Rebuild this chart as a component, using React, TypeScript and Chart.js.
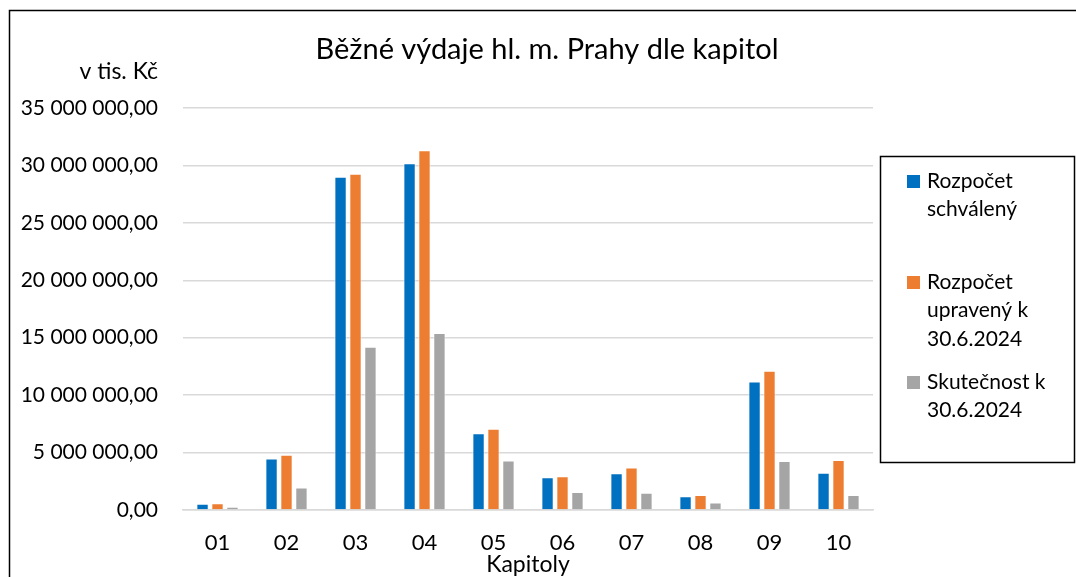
import { useEffect, useRef } from "react";
import { Chart, registerables } from "chart.js";

Chart.register(...registerables);

const categories = ["01", "02", "03", "04", "05", "06", "07", "08", "09", "10"];
const rozpocetSchvaleny = [520000, 4470000, 29000000, 30170000, 6670000, 2840000, 3190000, 1190000, 11170000, 3220000];
const rozpocetUpraveny = [580000, 4790000, 29250000, 31300000, 7050000, 2930000, 3680000, 1280000, 12100000, 4330000];
const skutecnost = [260000, 1940000, 14200000, 15400000, 4290000, 1540000, 1480000, 640000, 4240000, 1280000];
const seriesLabels = [
  ["Rozpočet", "schválený"],
  ["Rozpočet", "upravený k", "30.6.2024"],
  ["Skutečnost k", "30.6.2024"],
];
const seriesColors = ["#0070C0", "#ED7D31", "#A5A5A5"];
const chartTitle = "Běžné výdaje hl. m. Prahy dle kapitol";
const unitLabel = "v tis. Kč";
const xTitle = "Kapitoly";

const FONT = "Lato, 'Open Sans', sans-serif";

function formatCz(v: number): string {
  const s = Math.round(v).toString().replace(/\B(?=(\d{3})+(?!\d))/g, " ");
  return s + ",00";
}

const decorPlugin = {
  id: "decor",
  afterDraw(chart: any) {
    const ctx = chart.ctx as CanvasRenderingContext2D;
    ctx.save();
    // outer frame
    ctx.strokeStyle = "#000";
    ctx.lineWidth = 1.5;
    ctx.beginPath();
    ctx.moveTo(9.5, 600);
    ctx.lineTo(9.5, 10.5);
    ctx.lineTo(1100, 10.5);
    ctx.stroke();

    // title
    ctx.fillStyle = "#000";
    ctx.font = `29px ${FONT}`;
    ctx.textAlign = "center";
    ctx.textBaseline = "middle";
    ctx.fillText(chartTitle, 547, 50);

    // unit label
    ctx.font = `23px ${FONT}`;
    ctx.textAlign = "right";
    ctx.fillText(unitLabel, 158, 72);

    // legend box
    ctx.lineWidth = 1.5;
    ctx.strokeStyle = "#000";
    ctx.strokeRect(880.5, 156.5, 194, 306);
    const starts = [181, 282, 382];
    const lh = 28.5;
    ctx.textAlign = "left";
    ctx.font = `21px ${FONT}`;
    seriesLabels.forEach((lines, i) => {
      const y0 = starts[i];
      ctx.fillStyle = seriesColors[i];
      ctx.fillRect(907, y0 - 6, 13, 13);
      ctx.fillStyle = "#000";
      lines.forEach((ln, j) => ctx.fillText(ln, 927, y0 + j * lh));
    });
    ctx.restore();
  },
};

export default function App() {
  const ref = useRef<HTMLCanvasElement | null>(null);
  useEffect(() => {
    if (!ref.current) return;
    const datasets = [rozpocetSchvaleny, rozpocetUpraveny, skutecnost].map((d, i) => ({
      label: seriesLabels[i].join(" "),
      data: d,
      backgroundColor: seriesColors[i],
      borderColor: "#ffffff",
      borderWidth: 0.8,
      categoryPercentage: 0.65,
      barPercentage: 0.8,
    }));
    const chart = new Chart(ref.current, {
      type: "bar",
      data: { labels: categories, datasets },
      options: {
        animation: false,
        responsive: false,
        devicePixelRatio: 1,
        layout: { padding: { left: 0, right: 203, top: 108, bottom: 0 } },
        plugins: {
          legend: { display: false },
          title: { display: false },
          tooltip: { enabled: false },
        },
        scales: {
          x: {
            grid: { display: false, drawTicks: false },
            border: { display: true, color: "#d9d9d9", width: 1.5 },
            ticks: { color: "#000", font: { family: FONT, size: 22 }, padding: 20 },
            title: {
              display: true,
              text: xTitle,
              color: "#000",
              font: { family: FONT, size: 23, lineHeight: 1.1 },
              padding: { top: 0, bottom: 0 },
            },
            afterFit: (s: any) => { s.height = 67; },
          },
          y: {
            min: 0,
            max: 35000000,
            ticks: {
              stepSize: 5000000,
              color: "#000",
              font: { family: FONT, size: 21 },
              padding: 25,
              callback: (v: any) => formatCz(Number(v)),
            },
            grid: { color: "#d9d9d9", lineWidth: 1.5, drawTicks: false },
            border: { display: false },
            afterFit: (s: any) => { s.width = 183; },
          },
        },
      },
      plugins: [decorPlugin],
    });
    return () => chart.destroy();
  }, []);
  return (
    <div style={{ position: "absolute", left: 0, top: 0, width: 1076, height: 577, background: "#fff" }}>
      <canvas ref={ref} width={1076} height={577} style={{ display: "block" }} />
    </div>
  );
}
